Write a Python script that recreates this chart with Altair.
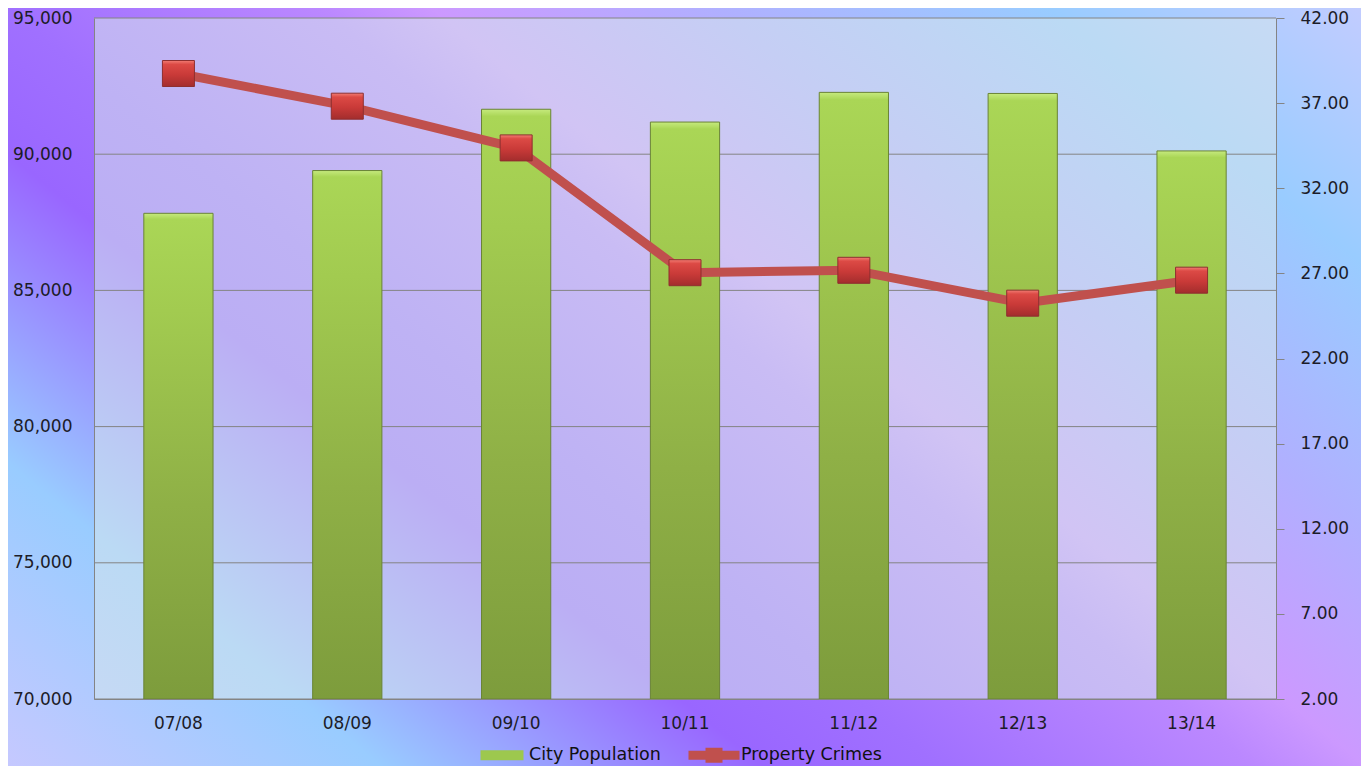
import altair as alt
import pandas as pd

# ---------------- data ----------------
seasons = ["07/08", "08/09", "09/10", "10/11", "11/12", "12/13", "13/14"]
population = [87830, 89400, 91650, 91180, 92270, 92230, 90120]
property_crimes = [38.74, 36.82, 34.37, 27.04, 27.18, 25.25, 26.60]
pop_ticks = [70000, 75000, 80000, 85000, 90000, 95000]
crime_ticks = [2, 7, 12, 17, 22, 27, 32, 37, 42]
legend_series = ["City Population", "Property Crimes"]

# ---------------- layout / style ----------------
W, H = 1182, 681
PAD = {"left": 86, "top": 10, "right": 85, "bottom": 67}
PAGE = 8  # page margin

OUTER_STOPS = [
    (0.0, "#c8c8ff"), (0.17, "#99ccff"), (0.334, "#9966ff"), (0.41, "#a070ff"),
    (0.545, "#bb88ff"), (0.593, "#cc99ff"), (0.716, "#b0b0ff"), (0.858, "#99ccff"),
    (1.0, "#c4ccff"),
]


def hex2rgb(h):
    h = h.lstrip("#")
    return tuple(int(h[i:i + 2], 16) for i in (0, 2, 4))


def rgb2hex(c):
    return "#%02x%02x%02x" % tuple(max(0, min(255, int(round(v)))) for v in c)


def mix(h, other, a):
    c1, c2 = hex2rgb(h), other
    return rgb2hex([c1[i] * (1 - a) + c2[i] * a for i in range(3)])


INNER_STOPS = [(o, mix(c, (212, 228, 236), 0.57)) for o, c in OUTER_STOPS]


def diag_gradient(bx, by, bw, bh, stops):
    # page-space diagonal gradient mapped into the item's bounding box
    a, b, c = 0.63 / 1467, -0.777 / 1467, 604.5 / 1467
    A, B = a * bw, b * bh
    C = a * bx + b * by + c
    n2 = A * A + B * B
    x1, y1 = -C * A / n2, -C * B / n2
    return alt.LinearGradient(
        gradient="linear", x1=x1, y1=y1, x2=x1 + A / n2, y2=y1 + B / n2,
        stops=[alt.GradientStop(color=col, offset=off) for off, col in stops],
    )


outer_grad = diag_gradient(PAGE, PAGE, W + PAD["left"] + PAD["right"],
                           H + PAD["top"] + PAD["bottom"], OUTER_STOPS)
inner_grad = diag_gradient(PAGE + PAD["left"], PAGE + PAD["top"], W, H, INNER_STOPS)

bar_grad = alt.LinearGradient(
    gradient="linear", x1=0, x2=0, y1=0, y2=1,
    stops=[alt.GradientStop(color="#c6ea7e", offset=0),
           alt.GradientStop(color="#aad656", offset=0.012),
           alt.GradientStop(color="#a2cb50", offset=0.2),
           alt.GradientStop(color="#8fb046", offset=0.6),
           alt.GradientStop(color="#7d9c3c", offset=1)],
)
marker_grad = alt.LinearGradient(
    gradient="linear", x1=0, x2=0, y1=0, y2=1,
    stops=[alt.GradientStop(color="#f27d74", offset=0),
           alt.GradientStop(color="#dc4a45", offset=0.15),
           alt.GradientStop(color="#c93a38", offset=0.55),
           alt.GradientStop(color="#a32d2d", offset=1)],
)

FONT = "DejaVu Sans"
GRID = "#848484"

df = pd.DataFrame({"season": seasons, "population": population, "crimes": property_crimes})
one = pd.DataFrame({"k": [0]})

x_enc = alt.X(
    "season:N", sort=seasons,
    scale=alt.Scale(paddingInner=0.59, paddingOuter=0.295),
    axis=alt.Axis(title=None, labelAngle=0, ticks=False, tickSize=0, labelPadding=16,
                  domainColor=GRID, zindex=1),
)

left_scale = alt.Scale(domain=[70000, 95000], zero=False, nice=False)
left_axis = alt.Axis(orient="left", values=pop_ticks, format=",.0f", title=None, grid=False,
                     ticks=False, tickSize=0, labelPadding=22, domainColor=GRID, zindex=1)
right_scale = alt.Scale(domain=[2, 42], zero=False, nice=False)
right_axis = alt.Axis(orient="right", values=crime_ticks, format=".2f", title=None, grid=False,
                      ticks=True, tickSize=8, tickColor=GRID, labelPadding=16,
                      domainColor=GRID, zindex=1)

outer_bg = alt.Chart(one).mark_rect(fill=outer_grad, strokeWidth=0).encode(
    x=alt.value(-PAD["left"]), x2=alt.value(W + PAD["right"]),
    y=alt.value(-PAD["top"]), y2=alt.value(H + PAD["bottom"]),
)
inner_bg = alt.Chart(one).mark_rect(fill=inner_grad, strokeWidth=0).encode(
    x=alt.value(0), x2=alt.value(W), y=alt.value(0), y2=alt.value(H),
)

rules = alt.Chart(pd.DataFrame({"v": pop_ticks})).mark_rule(color=GRID, strokeWidth=1).encode(
    y=alt.Y("v:Q", scale=left_scale, axis=left_axis)
)
bars = alt.Chart(df).mark_bar(fill=bar_grad, stroke="#6a8436", strokeWidth=1).encode(
    x=x_enc,
    y=alt.Y("population:Q", scale=left_scale, axis=left_axis),
    y2=alt.datum(70000),
)
left = alt.layer(rules, bars)

line = alt.Chart(df).mark_line(color="#c0504d", strokeWidth=9, interpolate="linear",
                               strokeJoin="round").encode(
    x=x_enc, y=alt.Y("crimes:Q", scale=right_scale, axis=right_axis)
)
pts = alt.Chart(df).mark_point(
    shape="M-1,-0.8125H1V0.8125H-1Z", size=1024, filled=True, fill=marker_grad,
    stroke="#8e2f2f", strokeWidth=1, opacity=1,
).encode(x=x_enc, y=alt.Y("crimes:Q", scale=right_scale, axis=right_axis))
right = alt.layer(line, pts)

leg = alt.Legend(
    orient="none", legendX=398, legendY=727, direction="horizontal", title=None,
    symbolSize=400, symbolStrokeWidth=0, labelOffset=17, columnPadding=27, padding=0,
    labelFont=FONT, labelFontSize=17.5, labelColor="#111111", zindex=1,
)
path_bar = "M-2.15,-0.5H2.15V0.5H-2.15Z"
path_line = "M-2.55,-0.45H2.55V0.45H-2.55Z M-0.85,-0.75H0.85V0.75H-0.85Z"
legend_layer = alt.Chart(pd.DataFrame({"series": legend_series})).transform_filter(
    "false"
).mark_point(filled=True, opacity=1).encode(
    color=alt.Color("series:N", scale=alt.Scale(domain=legend_series, range=["#9dc84e", "#c0504d"]),
                    legend=leg),
    shape=alt.Shape("series:N", scale=alt.Scale(domain=legend_series, range=[path_bar, path_line]),
                    legend=leg),
)

chart = alt.layer(outer_bg, inner_bg, left, right, legend_layer).resolve_scale(
    y="independent"
).properties(
    width=W, height=H, autosize=alt.AutoSizeParams(type="none"), padding=PAD,
    background="#b0b0ff",
).configure_view(strokeWidth=0).configure_axis(
    labelFont=FONT, labelFontSize=17, labelColor="#1c1c28",
)

chart.save("out.html", embed_options={"renderer": "svg", "actions": False})
